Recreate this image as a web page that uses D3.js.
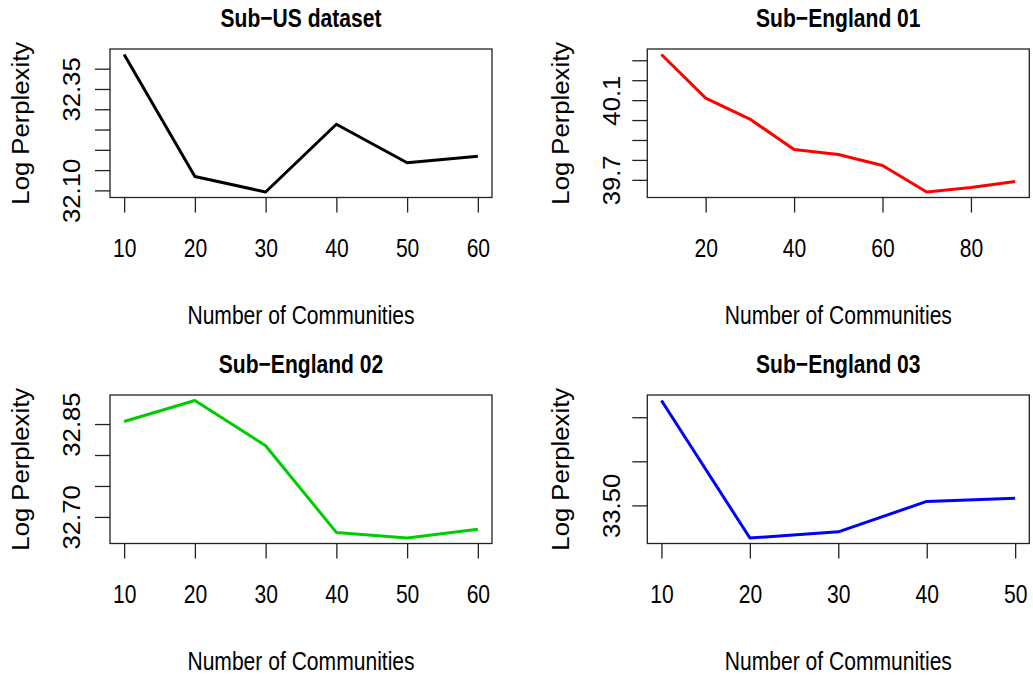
<!DOCTYPE html>
<html>
<head>
<meta charset="utf-8">
<script src="https://cdn.jsdelivr.net/npm/d3@7"></script>
<style>
  html, body { margin: 0; padding: 0; background: #fff; }
  svg { display: block; }
  text { font-family: "Liberation Sans", Arial, Helvetica, sans-serif; fill: #000; }
</style>
</head>
<body>
<svg id="chart" width="1033" height="675"></svg>
<script>
// Log perplexity against the number of communities, one panel per dataset
const usK   = [10, 20, 30, 40, 50, 60];
const usLP  = [32.435, 32.134, 32.096, 32.263, 32.168, 32.184];

const en1K  = [10, 20, 30, 40, 50, 60, 70, 80, 90];
const en1LP = [40.329, 40.110, 40.005, 39.852, 39.827, 39.772, 39.639, 39.662, 39.692];

const en2K  = [10, 20, 30, 40, 50, 60];
const en2LP = [32.854, 32.888, 32.815, 32.675, 32.666, 32.680];

const en3K  = [10, 20, 30, 40, 50];
const en3LP = [33.619, 33.463, 33.470, 33.5045, 33.508];

// Axis ticks and which of them carry a printed label
const usXTicks  = [10, 20, 30, 40, 50, 60];
const usYTicks  = [32.10, 32.15, 32.20, 32.25, 32.30, 32.35, 32.40];
const usYLabels = ["32.10", "32.35"];

const en1XTicks  = [20, 40, 60, 80];
const en1YTicks  = [39.7, 39.8, 39.9, 40.0, 40.1, 40.2, 40.3];
const en1YLabels = ["39.7", "40.1"];

const en2XTicks  = [10, 20, 30, 40, 50, 60];
const en2YTicks  = [32.70, 32.75, 32.80, 32.85];
const en2YLabels = ["32.70", "32.85"];

const en3XTicks  = [10, 20, 30, 40, 50];
const en3YTicks  = [33.50, 33.55, 33.60];
const en3YLabels = ["33.50"];

const titles = ["Sub\u2212US dataset", "Sub\u2212England 01", "Sub\u2212England 02", "Sub\u2212England 03"];
const xLab = "Number of Communities";
const yLab = "Log Perplexity";

const panels = [
  { title: titles[0], k: usK,  lp: usLP,  xt: usXTicks,  yt: usYTicks,  yl: usYLabels,  dec: 2, color: "#000000", col: 0, row: 0 },
  { title: titles[1], k: en1K, lp: en1LP, xt: en1XTicks, yt: en1YTicks, yl: en1YLabels, dec: 1, color: "#FF0000", col: 1, row: 0 },
  { title: titles[2], k: en2K, lp: en2LP, xt: en2XTicks, yt: en2YTicks, yl: en2YLabels, dec: 2, color: "#00CD00", col: 0, row: 1 },
  { title: titles[3], k: en3K, lp: en3LP, xt: en3XTicks, yt: en3YTicks, yl: en3YLabels, dec: 2, color: "#0000FF", col: 1, row: 1 }
];

// Layout of the 2x2 grid of plot regions
const colLeft = [110, 647.3];
const rowTop  = [49, 395];
const boxW = 382, boxH = 148.5;
const FS = 25.7;     // font size
const SX = 0.82;     // horizontal glyph compression for horizontal text
const SXR = 0.9;     // glyph height compression for rotated text
const TICK = 15;
const yTickLabOff = [-30, -27.5];
const yLabOff = [-81.5, -78.5];

const svg = d3.select("#chart");

// 4% padding on each side, like R's default axis range
function padded(ext) {
  const d = (ext[1] - ext[0]) * 0.04;
  return [ext[0] - d, ext[1] + d];
}

panels.forEach(p => {
  const left = colLeft[p.col], top = rowTop[p.row];
  const g = svg.append("g").attr("transform", `translate(${left},${top})`);

  const x = d3.scaleLinear().domain(padded(d3.extent(p.k))).range([0, boxW]);
  const y = d3.scaleLinear().domain(padded(d3.extent(p.lp))).range([boxH, 0]);

  // Data line
  const line = d3.line().x((d, i) => x(p.k[i])).y(d => y(d));
  g.append("path")
    .datum(p.lp)
    .attr("d", line)
    .attr("fill", "none")
    .attr("stroke", p.color)
    .attr("stroke-width", 3)
    .attr("stroke-linejoin", "round")
    .attr("stroke-linecap", "butt");

  // Plot box
  g.append("rect")
    .attr("x", 0).attr("y", 0)
    .attr("width", boxW).attr("height", boxH)
    .attr("fill", "none")
    .attr("stroke", "#222")
    .attr("stroke-width", 1.3);

  // Bottom axis
  const xAxis = d3.axisBottom(x).tickValues(p.xt).tickSize(TICK).tickSizeOuter(0)
    .tickFormat(d3.format("d"));
  const gx = g.append("g").attr("transform", `translate(0,${boxH})`).call(xAxis);
  gx.select(".domain").remove();
  gx.selectAll(".tick line").attr("stroke", "#222").attr("stroke-width", 1.3);
  gx.selectAll(".tick text")
    .attr("y", null).attr("dy", null)
    .attr("transform", `translate(0,59.5) scale(${SX},1)`)
    .attr("text-anchor", "middle")
    .style("font-size", FS + "px")
    .style("font-family", "'Liberation Sans', Arial, sans-serif");

  // Left axis: every tick drawn, only some labelled
  const fmt = d3.format(`.${p.dec}f`);
  const yAxis = d3.axisLeft(y).tickValues(p.yt).tickSize(TICK).tickSizeOuter(0)
    .tickFormat(d => p.yl.includes(fmt(d)) ? fmt(d) : "");
  const gy = g.append("g").call(yAxis);
  gy.select(".domain").remove();
  gy.selectAll(".tick line").attr("stroke", "#222").attr("stroke-width", 1.3);
  gy.selectAll(".tick text")
    .attr("x", null).attr("dy", null)
    .attr("transform", `translate(${yTickLabOff[p.col]},0) scale(${SXR},1) rotate(-90)`)
    .attr("text-anchor", "middle")
    .style("font-size", FS + "px")
    .style("font-family", "'Liberation Sans', Arial, sans-serif");

  // Title
  g.append("text")
    .attr("transform", `translate(${boxW / 2},-22) scale(${SX},1)`)
    .attr("text-anchor", "middle")
    .style("font-size", FS + "px")
    .style("font-weight", "bold")
    .text(p.title);

  // Axis titles
  g.append("text")
    .attr("transform", `translate(${boxW / 2},${boxH + 126.5}) scale(${SX},1)`)
    .attr("text-anchor", "middle")
    .style("font-size", FS + "px")
    .text(xLab);

  g.append("text")
    .attr("transform", `translate(${yLabOff[p.col]},${boxH / 2}) scale(${SXR},1) rotate(-90)`)
    .attr("text-anchor", "middle")
    .style("font-size", FS + "px")
    .text(yLab);
});
</script>
</body>
</html>
